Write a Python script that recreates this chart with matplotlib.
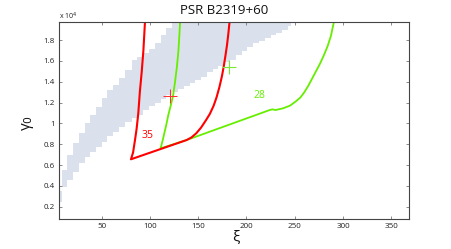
import matplotlib
matplotlib.use("Agg")
import matplotlib.pyplot as plt
import numpy as np

# ---- data (gamma_0 in units of 1e4) ----
band_x = [5.5, 8.6, 13.8, 20.0, 26.2, 32.7, 37.9, 44.1, 50.0, 55.9, 62.1, 68.3, 74.2, 81.0,
          86.2, 93.1, 99, 105, 111, 117, 123, 129, 135, 141, 147, 153, 159, 165, 171, 177,
          183, 189, 195, 201, 207, 213, 219, 225, 231, 237, 243, 246]
band_lo = [0.248, 0.392, 0.456, 0.536, 0.616, 0.68, 0.728, 0.776, 0.824, 0.878, 0.92, 0.968,
           1.016, 1.048, 1.08, 1.13, 1.17, 1.20, 1.235, 1.27, 1.30, 1.33, 1.355, 1.385, 1.42,
           1.45, 1.49, 1.52, 1.55, 1.59, 1.61, 1.66, 1.70, 1.73, 1.77, 1.79, 1.82, 1.85, 1.87,
           1.90, 1.94, 1.97]
band_hi = [0.353, 0.552, 0.696, 0.808, 0.910, 1.0, 1.08, 1.16, 1.24, 1.32, 1.368, 1.432,
           1.512, 1.608, 1.64, 1.672, 1.71, 1.77, 1.85, 1.92, 2.0, 2.0, 2.0, 2.0, 2.0, 2.0,
           2.0, 2.0, 2.0, 2.0, 2.0, 2.0, 2.0, 2.0, 2.0, 2.0, 2.0, 2.0, 2.0, 2.0, 2.0, 2.0]

red_x = [94.8, 93.2, 91.5, 89.5, 87.9, 86.2, 84.5, 82.5, 80.3, 138, 143, 148, 153, 158, 162,
         166, 169, 172, 174.5, 176.5, 178.2, 179.8, 181.2, 182.4]
red_y = [1.97, 1.7, 1.5, 1.3, 1.096, 0.95, 0.84, 0.72, 0.655, 0.84, 0.865, 0.905, 0.96, 1.03,
         1.09, 1.17, 1.25, 1.35, 1.45, 1.55, 1.65, 1.75, 1.86, 1.97]

green_x = [131.2, 130.5, 129.5, 128, 126, 124, 121.5, 119, 117, 115, 113, 111, 138, 224, 227,
           230, 238, 245, 251, 256, 260, 264, 268, 272, 276, 280, 284, 287.5, 290.5]
green_y = [1.97, 1.85, 1.7, 1.55, 1.4, 1.27, 1.17, 1.08, 0.99, 0.91, 0.83, 0.76, 0.84, 1.128,
           1.135, 1.128, 1.145, 1.17, 1.21, 1.25, 1.3, 1.36, 1.43, 1.5, 1.57, 1.65, 1.74,
           1.84, 1.97]

cross_red = (120.7, 1.265)
cross_green = (182.1, 1.542)
label_red = (97.6, 0.888, "35")
label_green = (213.2, 1.272, "28")

xticks = [50, 100, 150, 200, 250, 300, 350]
yticks = [0.2, 0.4, 0.6, 0.8, 1.0, 1.2, 1.4, 1.6, 1.8]
ytick_labels = ["0.2", "0.4", "0.6", "0.8", "1", "1.2", "1.4", "1.6", "1.8"]

RED = "#ff0000"
GREEN = "#66ee00"
BAND = "#dae1ec"

plt.rcParams['font.family'] = ['Open Sans', 'DejaVu Sans']

fig = plt.figure(figsize=(4.52, 2.49), dpi=100)
ax = fig.add_axes([0.130, 0.122, 0.774, 0.788])

ax.fill_between(band_x, band_lo, band_hi, step='post', color=BAND, linewidth=0)
ax.plot(green_x, green_y, color=GREEN, lw=1.3, solid_joinstyle='round')
ax.plot(red_x, red_y, color=RED, lw=1.5, solid_joinstyle='round')
ax.plot([cross_red[0]], [cross_red[1]], marker='+', color='#ff3333', ms=10.5, mew=0.75)
ax.plot([cross_green[0]], [cross_green[1]], marker='+', color='#77e833', ms=10.5, mew=0.8)
ax.text(label_red[0], label_red[1], label_red[2], color=RED, fontsize=7.5, ha='center', va='center')
ax.text(label_green[0], label_green[1], label_green[2], color=GREEN, fontsize=7.5, ha='center', va='center')

ax.set_xlim(5.5, 368)
ax.set_ylim(0.085, 1.97)
ax.set_xticks(xticks)
ax.set_xticklabels([str(t) for t in xticks])
ax.set_yticks(yticks)
ax.set_yticklabels(ytick_labels)
ax.tick_params(direction='in', length=2.5, width=0.6, color='#777777', labelsize=5.8,
               labelcolor='#222222', top=True, right=True, pad=3)
for s in ax.spines.values():
    s.set_color('#444444')
    s.set_linewidth(0.8)

fig.text(0.495, 0.958, "PSR B2319+60", ha='center', va='center', fontsize=9.5, color='#111111')
fig.text(0.130, 0.935, r"x 10$^{4}$", ha='left', va='center', fontsize=5, color='#222222')
fig.text(0.062, 0.505, "γ$_{0}$", ha='center', va='center', fontsize=11, rotation=90, color='#111111')
fig.text(0.522, 0.045, "ξ", ha='center', va='center', fontsize=11, color='#111111')

fig.savefig("out.png", dpi=100)
